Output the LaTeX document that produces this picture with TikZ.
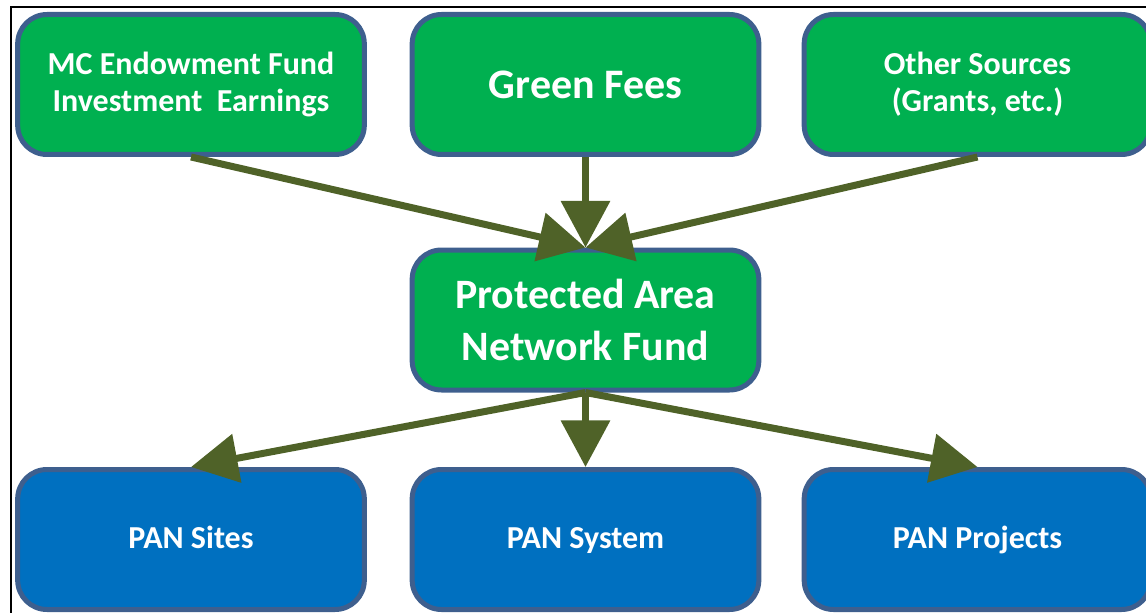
\documentclass[tikz,border=0pt]{standalone}
\usepackage{fontspec}
\setmainfont{Carlito}
\usetikzlibrary{arrows.meta}
\definecolor{fundgreen}{HTML}{00B050}
\definecolor{panblue}{HTML}{0070C0}
\definecolor{boxedge}{HTML}{3E5F8E}
\definecolor{flowolive}{HTML}{4F6228}
\begin{document}
\begin{tikzpicture}[x=0.75pt,y=-0.75pt,
    fundbox/.style={draw=boxedge,line width=3.75pt,rounded corners=22pt,
      minimum width=260pt,minimum height=105pt,align=center,text=white,
      fill=fundgreen,font=\bfseries\fontsize{24}{27.75}\selectfont},
    panbox/.style={fundbox,fill=panblue,text height=19.2pt,text depth=5pt},
    flow/.style={draw=flowolive,line width=5.25pt,
      -{Triangle[width=36pt,length=35pt]}}]
    \useasboundingbox (0,0) rectangle (1146,613);
    \clip (0,0) rectangle (1146,613);
    % frame
    \draw[line width=1.5pt] (11,7) rectangle (1200,700);
    % sources
    \node[fundbox] (endow) at (191,84.5) {MC Endowment Fund\\Investment\ \ Earnings};
    \node[fundbox,font=\bfseries\fontsize{31.5}{36}\selectfont] (green) at (585.5,84.5) {Green Fees};
    \node[fundbox] (other) at (977.5,84.5) {Other Sources\\(Grants, etc.)};
    % fund
    \node[fundbox,font=\bfseries\fontsize{31.4}{39}\selectfont] (pan) at (585.5,320) {Protected Area\\Network Fund};
    % uses
    \node[panbox] (sites) at (191,539.5) {PAN Sites};
    \node[panbox] (system) at (585.5,539.5) {PAN System};
    \node[panbox] (projects) at (977.5,539.5) {PAN Projects};
    % arrows
    \draw[flow] (endow.south) -- (pan.north);
    \draw[flow] (green.south) -- (pan.north);
    \draw[flow] (other.south) -- (pan.north);
    \draw[flow] (pan.south) -- (sites.north);
    \draw[flow] (pan.south) -- (system.north);
    \draw[flow] (pan.south) -- (projects.north);
\end{tikzpicture}
\end{document}
